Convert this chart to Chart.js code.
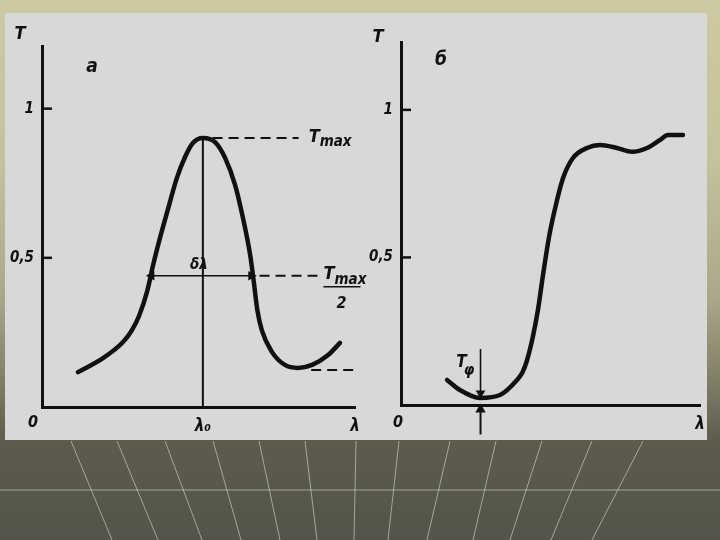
<!DOCTYPE html>
<html>
<head>
<meta charset="utf-8">
<script src="https://cdn.jsdelivr.net/npm/chart.js@4.4.1/dist/chart.umd.min.js"></script>
<style>
  html,body{margin:0;padding:0;}
  body{width:720px;height:540px;overflow:hidden;position:relative;
    background:linear-gradient(to bottom,#cdc9a2 0%,#c4c29c 30%,#a9a889 55%,#7b7a64 72%,#5c5b4c 82%,#55544a 100%);}
  #deco{position:absolute;left:0;top:0;}
  #panel{position:absolute;left:5px;top:13px;width:702px;height:427px;background:#d8d8d8;}
  canvas{position:absolute;left:0;top:0;}
</style>
</head>
<body>
<svg id="deco" width="720" height="540">
  <g stroke="#e8e8e0" stroke-opacity="0.55" stroke-width="1" fill="none">
    <line x1="0" y1="490" x2="720" y2="490"/>
    <line x1="71" y1="441" x2="112" y2="540"/>
    <line x1="117" y1="441" x2="158" y2="540"/>
    <line x1="165" y1="441" x2="202" y2="540"/>
    <line x1="213" y1="441" x2="241" y2="540"/>
    <line x1="259" y1="441" x2="280" y2="540"/>
    <line x1="305" y1="441" x2="317" y2="540"/>
    <line x1="356" y1="441" x2="354" y2="540"/>
    <line x1="399" y1="441" x2="388" y2="540"/>
    <line x1="450" y1="441" x2="427" y2="540"/>
    <line x1="496" y1="441" x2="473" y2="540"/>
    <line x1="542" y1="441" x2="510" y2="540"/>
    <line x1="592" y1="441" x2="551" y2="540"/>
    <line x1="643" y1="441" x2="592" y2="540"/>
  </g>
</svg>
<div id="panel"></div>
<canvas id="left" width="720" height="540"></canvas>
<canvas id="right" width="720" height="540"></canvas>
<script>
// ---------- data ----------
const leftLambda = [1.15,1.95,2.59,2.86,3.10,3.37,3.55,3.77,4.00,4.31,4.57,4.82,5.14,5.53,5.85,6.17,6.42,6.65,6.76,6.88,7.03,7.35,7.76,8.18,8.63,9.14,9.52];
const leftT      = [0.117,0.164,0.218,0.255,0.305,0.392,0.476,0.567,0.654,0.768,0.838,0.885,0.902,0.888,0.835,0.744,0.634,0.510,0.425,0.325,0.255,0.184,0.141,0.131,0.141,0.174,0.215];
const lambda0 = 5.14;
const Tmax = 0.902;
const halfLevel = 0.44;
const halfLeft = 3.5, halfRight = 6.68;
const TmaxDashFrom = 5.45, TmaxDashTo = 8.2;
const halfDashFrom = 6.95, halfDashTo = 8.8;
const lowLevel = 0.124, lowDashFrom = 8.6, lowDashTo = 10;

const rightLambda = [1.54,1.97,2.64,3.31,3.88,4.06,4.21,4.41,4.58,4.75,4.95,5.18,5.42,5.75,6.22,6.66,7.22,7.73,8.23,8.66,8.93,9.43];
const rightT      = [0.085,0.051,0.024,0.034,0.085,0.110,0.150,0.231,0.322,0.441,0.569,0.678,0.769,0.837,0.871,0.881,0.871,0.858,0.871,0.898,0.915,0.915];
const lambdaPhi = 2.66;
const phiArrowTop = 0.19, phiArrowEnd = 0.04;
const phiUpFrom = -0.10, phiUpTo = -0.015;

const yTickValues = [0.5, 1];
const yTickLabels = ['0,5', '1'];
const xMax = 10;
const leftXTickValues = [lambda0, xMax];
const leftXTickLabels = ['λ₀', 'λ'];
const rightXTickValues = [xMax];
const rightXTickLabels = ['λ'];

// ---------- style ----------
const INK = '#111';
const FAM = "'Liberation Sans Narrow','DejaVu Sans Condensed','Liberation Sans',sans-serif";
const font = (s) => `italic bold ${s}px ${FAM}`;

const notesPlugin = {
  id: 'notes',
  afterDatasetsDraw(chart, args, opts) {
    const ctx = chart.ctx, xs = chart.scales.x, ys = chart.scales.y;
    ctx.save();
    ctx.strokeStyle = INK; ctx.lineWidth = 2.5;
    yTickValues.forEach(v => {
      const py = ys.getPixelForValue(v);
      ctx.beginPath(); ctx.moveTo(xs.left, py); ctx.lineTo(xs.left + 10, py); ctx.stroke();
    });
    ctx.fillStyle = INK; ctx.textBaseline = 'middle';
    (opts.items || []).forEach(it => {
      const px = xs.getPixelForValue(it.x) + (it.dx || 0);
      const py = ys.getPixelForValue(it.y) + (it.dy || 0);
      ctx.font = font(it.size || 17);
      ctx.textAlign = it.align || 'center';
      ctx.fillText(it.text, px, py);
      if (it.sub) {
        const w = ctx.measureText(it.text).width;
        ctx.font = font(it.subSize || 14);
        ctx.textAlign = 'left';
        let sx = px;
        if ((it.align || 'center') === 'center') sx = px + w / 2;
        else if (it.align === 'left') sx = px + w;
        ctx.fillText(it.sub, sx + (it.subDx || 0), py + (it.subDy || 4));
      }
      if (it.bar) {
        ctx.lineWidth = 1.5;
        ctx.beginPath();
        ctx.moveTo(px, py + it.bar.dy); ctx.lineTo(px + it.bar.w, py + it.bar.dy); ctx.stroke();
      }
    });
    ctx.restore();
  }
};

function axisOpts(max, yw, xh, tickVals, tickLabels) {
  return {
    x: {
      type: 'linear', min: 0, max: xMax,
      afterFit: s => { s.height = xh; },
      afterBuildTicks: s => { s.ticks = tickVals.map(v => ({ value: v })); },
      border: { display: true, color: INK, width: 3 },
      grid: { display: true, drawOnChartArea: false, drawTicks: false, color: 'rgba(0,0,0,0)' },
      ticks: { autoSkip: false, maxRotation: 0, padding: 9, color: INK, font: { family: FAM, size: 17, style: 'italic', weight: 'bold' },
        callback: v => tickLabels[tickVals.indexOf(v)] }
    },
    y: {
      type: 'linear', min: 0, max: max,
      afterFit: s => { s.width = yw; },
      afterBuildTicks: s => { s.ticks = yTickValues.map(v => ({ value: v })); },
      border: { display: true, color: INK, width: 3 },
      grid: { display: true, drawOnChartArea: false, drawTicks: false, color: 'rgba(0,0,0,0)' },
      ticks: { autoSkip: false, padding: 8, color: INK, font: { family: FAM, size: 15, style: 'italic', weight: 'bold' },
        callback: v => yTickLabels[yTickValues.indexOf(v)] }
    }
  };
}

const seg = (a, b, extra) => Object.assign({
  data: [a, b], borderColor: INK, backgroundColor: INK, borderWidth: 2,
  pointRadius: 0, clip: false, tension: 0
}, extra || {});

const curveStyle = { borderColor: INK, borderWidth: 4.5, pointRadius: 0, cubicInterpolationMode: 'monotone', clip: false,
  borderCapStyle: 'round', borderJoinStyle: 'round' };

// ---------- left chart ----------
new Chart(document.getElementById('left'), {
  type: 'line',
  data: {
    datasets: [
      Object.assign({ data: leftLambda.map((x, i) => ({ x, y: leftT[i] })) }, curveStyle),
      seg({ x: lambda0, y: 0 }, { x: lambda0, y: Tmax }, { borderWidth: 2 }),
      seg({ x: TmaxDashFrom, y: Tmax }, { x: TmaxDashTo, y: Tmax }, { borderDash: [10, 6] }),
      seg({ x: halfLeft, y: halfLevel }, { x: halfRight, y: halfLevel },
        { borderWidth: 1.6, pointStyle: 'triangle', pointRadius: 4, pointRotation: [270, 90] }),
      seg({ x: halfDashFrom, y: halfLevel }, { x: halfDashTo, y: halfLevel }, { borderDash: [10, 6] }),
      seg({ x: lowDashFrom, y: lowLevel }, { x: lowDashTo, y: lowLevel }, { borderDash: [10, 6] })
    ]
  },
  options: {
    responsive: false, animation: false,
    layout: { padding: { left: 2, right: 365, top: 46, bottom: 103 } },
    scales: axisOpts(1.21, 40, 30, leftXTickValues, leftXTickLabels),
    plugins: {
      legend: { display: false }, tooltip: { enabled: false },
      notes: { items: [
        { x: 0, y: 1.21, text: 'T', dx: -22, dy: -12, size: 18 },
        { x: 1.6, y: 1.14, text: 'а', size: 19 },
        { x: TmaxDashTo, y: Tmax, text: 'T', dx: 10, dy: -1, align: 'left', size: 18, sub: 'max', subSize: 15, subDy: 5 },
        { x: lambda0, y: halfLevel, text: 'δλ', dx: -4, dy: -11, size: 15 },
        { x: halfDashTo, y: halfLevel, text: 'T', dx: 6, dy: -1, align: 'left', size: 18, sub: 'max', subSize: 15, subDy: 5,
          bar: { dy: 12, w: 37 } },
        { x: halfDashTo, y: halfLevel, text: '2', dx: 24, dy: 28, size: 16 },
        { x: 0, y: 0, text: '0', dx: -9, dy: 16, size: 16 }
      ] }
    }
  },
  plugins: [notesPlugin]
});

// ---------- right chart ----------
new Chart(document.getElementById('right'), {
  type: 'line',
  data: {
    datasets: [
      Object.assign({ data: rightLambda.map((x, i) => ({ x, y: rightT[i] })) }, curveStyle),
      seg({ x: lambdaPhi, y: phiArrowTop }, { x: lambdaPhi, y: phiArrowEnd },
        { borderWidth: 1.6, pointStyle: 'triangle', pointRadius: [0, 4], pointRotation: 180 }),
      seg({ x: lambdaPhi, y: phiUpFrom }, { x: lambdaPhi, y: phiUpTo },
        { borderWidth: 2, pointStyle: 'triangle', pointRadius: [0, 4], pointRotation: 0 })
    ]
  },
  options: {
    responsive: false, animation: false,
    layout: { padding: { left: 361, right: 20, top: 42, bottom: 105 } },
    scales: axisOpts(1.23, 40, 30, rightXTickValues, rightXTickLabels),
    plugins: {
      legend: { display: false }, tooltip: { enabled: false },
      notes: { items: [
        { x: 0, y: 1.23, text: 'T', dx: -23, dy: -5, size: 18 },
        { x: 1.34, y: 1.17, text: 'б', size: 19 },
        { x: lambdaPhi, y: phiArrowTop, text: 'T', dx: -19, dy: 14, size: 17, sub: 'φ', subSize: 15, subDx: -3, subDy: 8 },
        { x: 0, y: 0, text: '0', dx: -3, dy: 18, size: 16 }
      ] }
    }
  },
  plugins: [notesPlugin]
});
</script>
</body>
</html>
